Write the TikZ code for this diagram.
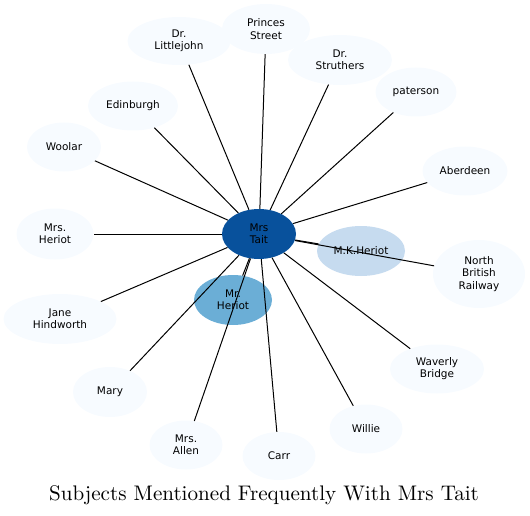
\documentclass[tikz,border=0pt]{standalone}
\usepackage{fontspec}
\newfontfamily\dvsans{DejaVu Sans}
\usetikzlibrary{shapes.geometric}
\definecolor{leaf}{HTML}{F7FBFF}
\definecolor{hub}{HTML}{08519C}
\definecolor{midb}{HTML}{6BAED6}
\definecolor{lightb}{HTML}{C6DBEF}
\tikzset{
  ent/.style={ellipse, fill=leaf, draw=none, inner sep=0pt, align=center,
    font=\dvsans\fontsize{10.5}{12.2}\selectfont, text=black},
  link/.style={draw=black, line width=1pt},
}
\begin{document}
\begin{tikzpicture}[x=1pt,y=-1pt]
\useasboundingbox (0,0) rectangle (530,516);
\node[ent, fill=hub, minimum width=74pt, minimum height=50pt] (tait) at (259,234) {Mrs\\Tait};
\node[ent, fill=lightb, minimum width=88pt, minimum height=50pt] (mk) at (361,251) {M.K.Heriot};
\node[ent, fill=midb, minimum width=78pt, minimum height=50pt] (mrh) at (233,300) {Mr.\\Heriot};
\node[ent, minimum width=103pt, minimum height=48pt] (litt) at (179,41) {Dr.\\Littlejohn};
\node[ent, minimum width=88pt, minimum height=50pt] (princes) at (266,29) {Princes\\Street};
\node[ent, minimum width=104pt, minimum height=50pt] (strut) at (340,60) {Dr.\\Struthers};
\node[ent, minimum width=81pt, minimum height=49pt] (pat) at (416,92) {paterson};
\node[ent, minimum width=85pt, minimum height=49pt] (aber) at (465,171) {Aberdeen};
\node[ent, minimum width=92pt, minimum height=68pt] (nbr) at (479,274) {North\\British\\Railway};
\node[ent, minimum width=94pt, minimum height=49pt] (wav) at (437,369) {Waverly\\Bridge};
\node[ent, minimum width=73pt, minimum height=49pt] (willie) at (366,429) {Willie};
\node[ent, minimum width=73pt, minimum height=48pt] (carr) at (279,456) {Carr};
\node[ent, minimum width=73pt, minimum height=49pt] (allen) at (186,445) {Mrs.\\Allen};
\node[ent, minimum width=74pt, minimum height=50pt] (mary) at (110,392) {Mary};
\node[ent, minimum width=113pt, minimum height=50pt] (jane) at (60,319) {Jane\\Hindworth};
\node[ent, minimum width=77pt, minimum height=51pt] (mrsh) at (55,234) {Mrs.\\Heriot};
\node[ent, minimum width=74pt, minimum height=49pt] (woolar) at (64,147) {Woolar};
\node[ent, minimum width=90pt, minimum height=49pt] (edin) at (133,106) {Edinburgh};
\foreach \n in {mk,mrh,litt,princes,strut,pat,aber,nbr,wav,willie,carr,allen,mary,jane,mrsh,woolar,edin}
  \draw[link] (tait) -- (\n);
\node[font=\fontsize{10}{12}\selectfont, anchor=base, inner sep=0pt] (title) at (264,500) {\scalebox{2.11}{Subjects Mentioned Frequently With Mrs Tait}};
\end{tikzpicture}
\end{document}
